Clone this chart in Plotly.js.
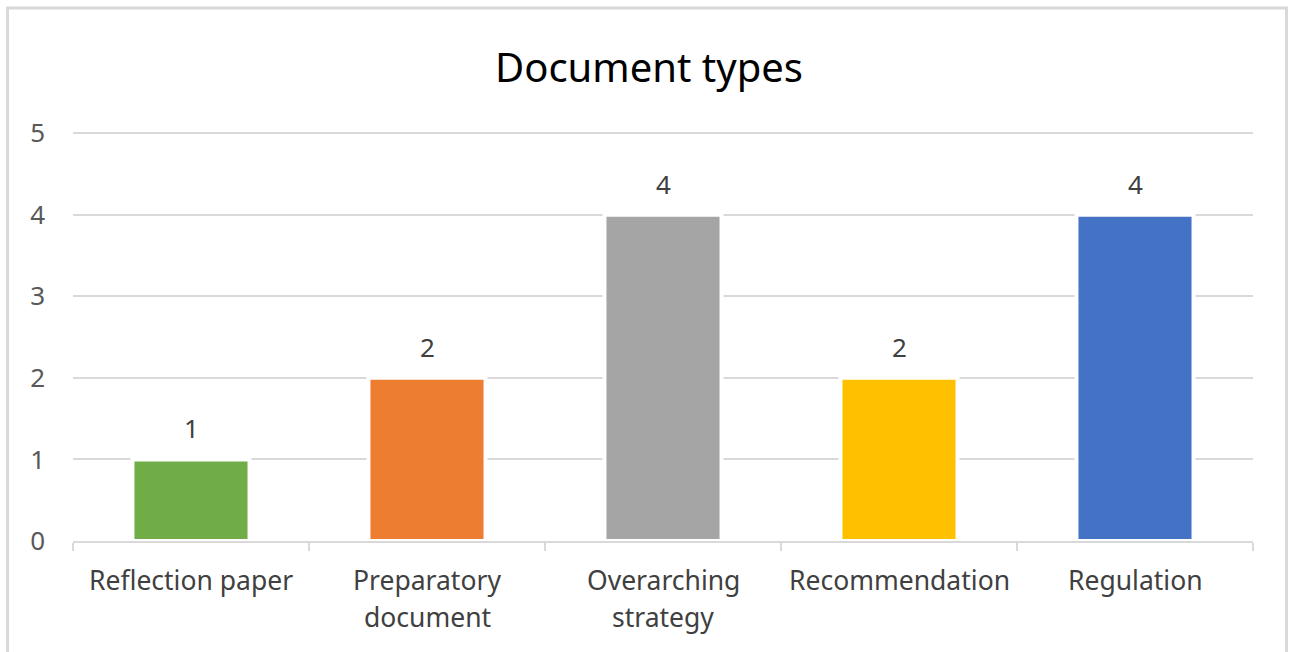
<!DOCTYPE html>
<html>
<head>
<meta charset="utf-8">
<script src="https://cdn.plot.ly/plotly-3.0.1.min.js"></script>
<style>
  html, body { margin: 0; padding: 0; background: #ffffff; }
  #chart { width: 1291px; height: 652px; }
</style>
</head>
<body>
<div id="chart"></div>
<script>
// Document counts by type
const categories = ['Reflection paper', 'Preparatory document', 'Overarching strategy', 'Recommendation', 'Regulation'];
const labelLines = [['Reflection paper'], ['Preparatory', 'document'], ['Overarching', 'strategy'], ['Recommendation'], ['Regulation']];
const counts = [1, 2, 4, 2, 4];
const barColors = ['#70AD47', '#ED7D31', '#A5A5A5', '#FFC000', '#4472C4'];
const yTicks = [0, 1, 2, 3, 4, 5];

const FONT = '"Noto Sans", "Open Sans", sans-serif';
const CAT_SIZE = 26.5;
const NUM_SIZE = 26;

const trace = {
  type: 'bar',
  x: categories,
  y: counts,
  marker: { color: barColors, line: { color: '#ffffff', width: 4 } },
  hoverinfo: 'x+y'
};

const annotations = [];
// value labels above each bar
categories.forEach((c, i) => {
  annotations.push({
    x: c, y: counts[i], xref: 'x', yref: 'y',
    text: String(counts[i]), showarrow: false,
    yanchor: 'middle', yshift: 31,
    font: { family: FONT, size: NUM_SIZE, color: '#404040' }
  });
});
// category labels under the axis, one annotation per text line
categories.forEach((c, i) => {
  labelLines[i].forEach((line, j) => {
    annotations.push({
      x: c, y: 0, xref: 'x', yref: 'paper',
      text: line, showarrow: false,
      yanchor: 'middle', yshift: -39 - 37 * j,
      font: { family: FONT, size: CAT_SIZE, color: '#404040' }
    });
  });
});

const layout = {
  width: 1291,
  height: 652,
  margin: { l: 73, r: 38, t: 131, b: 111 },
  paper_bgcolor: '#ffffff',
  plot_bgcolor: '#ffffff',
  showlegend: false,
  bargap: 0.504,
  title: {
    text: 'Document types',
    x: 649 / 1291, xref: 'container', xanchor: 'center',
    y: 1 - 68 / 652, yref: 'container', yanchor: 'middle',
    font: { family: FONT, size: 40, color: '#000000' }
  },
  xaxis: {
    type: 'category',
    showticklabels: false,
    showgrid: false,
    showline: true, linecolor: '#d9d9d9', linewidth: 2,
    ticks: 'outside', tickson: 'boundaries', ticklen: 8, tickwidth: 2, tickcolor: '#d9d9d9',
    zeroline: false, fixedrange: true
  },
  yaxis: {
    range: [0, 5.025],
    tickvals: yTicks,
    ticktext: yTicks.map(String),
    showgrid: true, gridcolor: '#d9d9d9', gridwidth: 2,
    showline: false, zeroline: false,
    ticks: '', ticklabelstandoff: 27,
    tickfont: { family: FONT, size: NUM_SIZE, color: '#595959' },
    fixedrange: true
  },
  annotations: annotations,
  shapes: [{
    type: 'rect', xref: 'paper', yref: 'paper', layer: 'below',
    x0: (7.5 - 73) / 1180, x1: (1286.5 - 73) / 1180,
    y0: (541 - 700) / 410, y1: (541 - 8) / 410,
    line: { color: '#d9d9d9', width: 3 }, fillcolor: 'rgba(0,0,0,0)'
  }]
};

Plotly.newPlot('chart', [trace], layout, { displayModeBar: false, staticPlot: true });
</script>
</body>
</html>
